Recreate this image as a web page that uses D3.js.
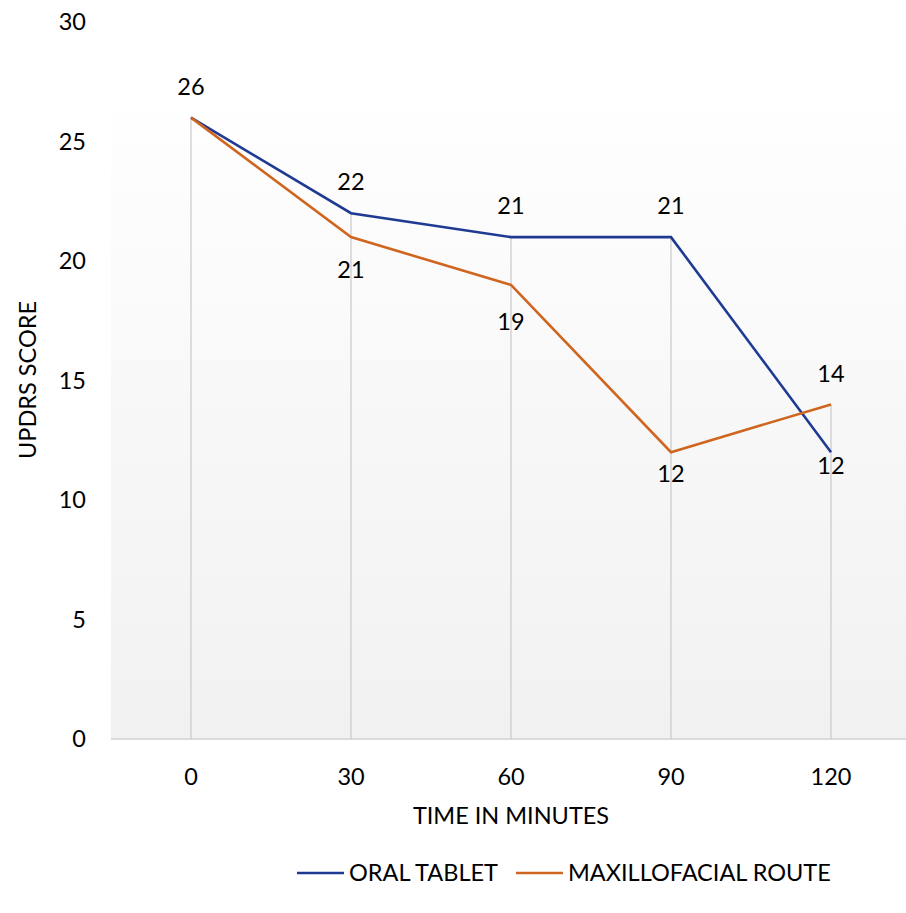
<!DOCTYPE html>
<html>
<head>
<meta charset="utf-8">
<script src="https://cdn.jsdelivr.net/npm/d3@7/dist/d3.min.js"></script>
<style>
  html, body { margin: 0; padding: 0; background: #fff; }
  svg { display: block; font-family: Lato, "Open Sans", "Liberation Sans", sans-serif; }
</style>
</head>
<body>
<svg id="chart" width="906" height="913"></svg>
<script>
// Time points (minutes) and UPDRS scores per route
const times = ["0", "30", "60", "90", "120"];
const oralTablet = [26, 22, 21, 21, 12];
const maxillofacial = [26, 21, 19, 12, 14];
const yTicks = [0, 5, 10, 15, 20, 25, 30];
// Value-label placement for each point: vertical offset from the point (px), null = hidden
const oralLabelDy = [-31, -31, -31, -31, 14];
const maxLabelDy = [null, 33, 37, 22, -31];

const series = [
  { name: "ORAL TABLET", values: oralTablet, dy: oralLabelDy, color: "#1f3a93" },
  { name: "MAXILLOFACIAL ROUTE", values: maxillofacial, dy: maxLabelDy, color: "#d0651f" }
];

const FONT = 23.5;
const svg = d3.select("#chart");
const plot = { left: 111, right: 911, top: 22, bottom: 739 };

const x = d3.scaleBand().domain(times).range([plot.left, plot.right]);
const y = d3.scaleLinear().domain([0, 30]).range([plot.bottom, plot.top]);
const cx = t => x(t) + x.bandwidth() / 2;

// Plot area background: soft vertical gradient
const defs = svg.append("defs");
const grad = defs.append("linearGradient").attr("id", "bg").attr("x1", 0).attr("y1", 0).attr("x2", 0).attr("y2", 1);
grad.append("stop").attr("offset", "0%").attr("stop-color", "#ffffff");
grad.append("stop").attr("offset", "10%").attr("stop-color", "#fdfdfd");
grad.append("stop").attr("offset", "100%").attr("stop-color", "#f1f1f1");
svg.append("rect")
  .attr("x", plot.left).attr("y", y(26) - 20)
  .attr("width", plot.right - plot.left).attr("height", plot.bottom - (y(26) - 20))
  .attr("fill", "url(#bg)");

// Drop lines from the highest point of each time down to the axis
svg.append("g").selectAll("line")
  .data(times)
  .join("line")
  .attr("x1", cx).attr("x2", cx)
  .attr("y1", (t, i) => y(Math.max(oralTablet[i], maxillofacial[i])))
  .attr("y2", plot.bottom)
  .attr("stroke", "#c9c9c9").attr("stroke-width", 1.2);

// Category axis line
svg.append("line")
  .attr("x1", plot.left).attr("x2", plot.right)
  .attr("y1", plot.bottom).attr("y2", plot.bottom)
  .attr("stroke", "#d0d0d0").attr("stroke-width", 1.5);

// Y tick labels
const yAxis = d3.axisLeft(y).tickValues(yTicks).tickSize(0).tickPadding(0);
const gy = svg.append("g").attr("transform", "translate(86,0)").call(yAxis);
gy.select(".domain").remove();
gy.selectAll("text").attr("font-size", FONT).attr("fill", "#000")
  .style("font-family", "Lato, 'Open Sans', sans-serif");

// X tick labels
const xAxis = d3.axisBottom(x).tickSize(0).tickPadding(0);
const gx = svg.append("g").attr("transform", "translate(0,768)").call(xAxis);
gx.select(".domain").remove();
gx.selectAll("text").attr("font-size", FONT).attr("fill", "#000")
  .style("font-family", "Lato, 'Open Sans', sans-serif");

// Axis titles
svg.append("text")
  .attr("transform", "translate(28,380) rotate(-90)")
  .attr("text-anchor", "middle").attr("dy", "0.35em")
  .attr("font-size", FONT).attr("fill", "#000")
  .text("UPDRS SCORE");
svg.append("text")
  .attr("x", 511).attr("y", 816)
  .attr("text-anchor", "middle").attr("dy", "0.35em")
  .attr("font-size", FONT).attr("fill", "#000")
  .text("TIME IN MINUTES");

// Lines
const line = d3.line().x((v, i) => cx(times[i])).y(v => y(v));
svg.append("g").selectAll("path")
  .data(series)
  .join("path")
  .attr("d", s => line(s.values))
  .attr("fill", "none")
  .attr("stroke", s => s.color)
  .attr("stroke-width", 2.6)
  .attr("stroke-linejoin", "miter");

// Value labels
series.forEach(s => {
  svg.append("g").selectAll("text")
    .data(s.values.map((v, i) => ({ v, i, dy: s.dy[i] })).filter(d => d.dy !== null))
    .join("text")
    .attr("x", d => cx(times[d.i]))
    .attr("y", d => y(d.v) + d.dy)
    .attr("dy", "0.35em")
    .attr("text-anchor", "middle")
    .attr("font-size", FONT).attr("fill", "#000")
    .text(d => d.v);
});

// Legend
const legendItems = [
  { s: series[0], x: 297 },
  { s: series[1], x: 516 }
];
const lg = svg.append("g");
legendItems.forEach(it => {
  lg.append("line")
    .attr("x1", it.x).attr("x2", it.x + 47)
    .attr("y1", 873).attr("y2", 873)
    .attr("stroke", it.s.color).attr("stroke-width", 2.6);
  lg.append("text")
    .attr("x", it.x + 52).attr("y", 873).attr("dy", "0.35em")
    .attr("font-size", FONT).attr("fill", "#000")
    .text(it.s.name);
});
</script>
</body>
</html>
